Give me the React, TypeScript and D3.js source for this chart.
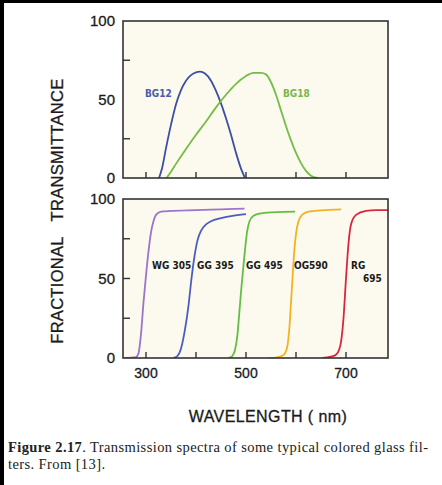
import React from "react";
import * as d3 from "d3";

// ---- data (wavelength nm, % transmittance) ----
const xTicks = [300, 400, 500, 600, 700];
const xTickLabels = [300, 500, 700];
const yTickLabels = [0, 50, 100];

const bg12: [number, number][] = [
  [326, 0], [332, 6], [340, 19], [350, 34], [360, 47], [370, 56], [380, 62],
  [390, 65.5], [400, 67.3], [408, 67.7], [418, 66.5], [430, 62], [440, 55.5],
  [450, 47.5], [460, 38], [470, 27.5], [480, 16], [490, 6], [498, 0],
];
const bg18: [number, number][] = [
  [341, 0], [350, 4], [360, 9], [380, 18.5], [400, 27.5], [420, 36], [440, 45],
  [460, 53], [480, 60], [500, 65], [515, 67], [530, 67], [540, 66], [550, 61],
  [560, 53], [570, 43], [580, 33], [590, 24], [600, 16], [610, 9.5], [620, 4.5],
  [630, 1.5], [643, 0],
];
const wg305: [number, number][] = [
  [258, 0], [280, 0.5], [285, 3], [290, 15], [295, 35], [300, 52], [305, 67],
  [310, 79], [315, 86], [320, 90], [330, 92], [350, 92.5], [400, 93],
  [450, 93.5], [497, 94],
];
const gg395: [number, number][] = [
  [355, 0], [362, 1], [370, 6], [378, 18], [385, 33], [391, 50], [397, 64],
  [403, 74], [410, 80], [420, 84], [430, 86], [450, 88], [470, 89.3], [500, 90.5],
];
const gg495: [number, number][] = [
  [465, 0], [472, 1], [478, 5], [483, 15], [487, 30], [491, 45], [494, 55],
  [498, 68], [502, 79], [507, 86], [515, 89.5], [530, 91], [560, 91.8], [598, 92],
];
const og590: [number, number][] = [
  [545, 0], [560, 0.3], [570, 1], [578, 3], [583, 8], [587, 20], [590, 35],
  [593, 50], [596, 65], [600, 78], [605, 86], [612, 90], [625, 92], [650, 92.8],
  [690, 93.5],
];
const rg695: [number, number][] = [
  [653, 0], [670, 0.8], [680, 2], [686, 5], [690, 10], [695, 25], [700, 50],
  [705, 72], [710, 84], [720, 90], [740, 92.5], [760, 93], [786, 93],
];

const topSeries = [
  { name: "BG12", data: bg12, color: "#3d4fa3" },
  { name: "BG18", data: bg18, color: "#74bd46" },
];
const bottomSeries = [
  { name: "WG305", data: wg305, color: "#9d74cc" },
  { name: "GG395", data: gg395, color: "#4b5ec0" },
  { name: "GG495", data: gg495, color: "#62bf44" },
  { name: "OG590", data: og590, color: "#f2b31e" },
  { name: "RG695", data: rg695, color: "#d9263d" },
];

const W = 442;
const H = 485;
const L = 123;
const R = 388;
const panels = [
  { id: "top", top: 21, bottom: 178, series: topSeries, yTicks: [25, 75] },
  { id: "bot", top: 199, bottom: 358, series: bottomSeries, yTicks: [25, 50, 75] },
];

const x = d3.scaleLinear().domain([254, 784]).range([L, R]);

const tickFont = "'Liberation Sans', Arial, sans-serif";
const labelFont = "'DejaVu Sans Condensed', 'DejaVu Sans', sans-serif";
const serif = "'Liberation Serif', 'Times New Roman', serif";

export default function App() {
  return (
    <div style={{ position: "fixed", left: 0, top: 0 }}>
      <svg width={W} height={H} style={{ display: "block", background: "#fff" }}>
        <rect x={0} y={0} width={W} height={3} fill="#000" />
        <rect x={0} y={0} width={4} height={H} fill="#000" />
        <defs>
          {panels.map((p) => (
            <clipPath id={"clip-" + p.id} key={p.id}>
              <rect x={L} y={p.top} width={R - L} height={p.bottom - p.top} />
            </clipPath>
          ))}
        </defs>
        {panels.map((p) => {
          const y = d3.scaleLinear().domain([0, 100]).range([p.bottom, p.top]);
          const line = d3
            .line<[number, number]>()
            .x((d) => x(d[0]))
            .y((d) => y(d[1]))
            .curve(d3.curveMonotoneX);
          return (
            <g key={p.id}>
              <rect x={L} y={p.top} width={R - L} height={p.bottom - p.top} fill="#fcf9ee" />
              <g clipPath={`url(#clip-${p.id})`}>
                {p.series.map((s) => (
                  <path key={s.name} d={line(s.data) || ""} fill="none" stroke={s.color} strokeWidth={1.8} />
                ))}
              </g>
              <rect x={L} y={p.top} width={R - L} height={p.bottom - p.top} fill="none" stroke="#333" strokeWidth={1.6} />
              {p.yTicks.map((t) => (
                <line key={t} x1={L} x2={L + 7} y1={y(t)} y2={y(t)} stroke="#333" strokeWidth={1.4} />
              ))}
              {xTicks.map((t) => (
                <line key={t} x1={x(t)} x2={x(t)} y1={p.bottom} y2={p.bottom - 6} stroke="#333" strokeWidth={1.4} />
              ))}
              {yTickLabels.map((t) => (
                <text key={t} x={115} y={y(t)} dy="0.36em" textAnchor="end" fontFamily={tickFont} fontSize={15} fill="#1a1a1a" stroke="#1a1a1a" strokeWidth={0.3}>
                  {t}
                </text>
              ))}
            </g>
          );
        })}
        {/* x tick labels */}
        {xTickLabels.map((t) => (
          <text key={t} x={x(t)} y={378} textAnchor="middle" fontFamily={tickFont} fontSize={14} fill="#1a1a1a" stroke="#1a1a1a" strokeWidth={0.3}>
            {t}
          </text>
        ))}
        <text x={268} y={422} textAnchor="middle" fontFamily={tickFont} fontSize={16} letterSpacing={0.4} fill="#1a1a1a" stroke="#1a1a1a" strokeWidth={0.3}>
          WAVELENGTH ( nm)
        </text>
        <g transform="translate(63,0)" fontFamily={tickFont} fontSize={16.5} letterSpacing={0.3} fill="#1a1a1a" stroke="#1a1a1a" strokeWidth={0.3}>
          <text transform="translate(0,290) rotate(-90)" textAnchor="middle">
            FRACTIONAL
          </text>
          <text transform="translate(0,150) rotate(-90)" textAnchor="middle">
            TRANSMITTANCE
          </text>
        </g>
        {/* curve labels */}
        <text x={145} y={97} fontFamily={labelFont} fontWeight="bold" fontSize={10} fill="#4a5aa8">BG12</text>
        <text x={283} y={97} fontFamily={labelFont} fontWeight="bold" fontSize={10} fill="#7ab848">BG18</text>
        <g fontFamily={labelFont} fontWeight="bold" fontSize={10} fill="#1a1a1a">
          <text x={152} y={269}>WG 305</text>
          <text x={197} y={269}>GG 395</text>
          <text x={246} y={269}>GG 495</text>
          <text x={294} y={269}>OG590</text>
          <text x={351} y={269}>RG</text>
          <text x={363} y={282}>695</text>
        </g>
        {/* caption */}
        <text x={8} y={452} fontFamily={serif} fontSize={14.5} letterSpacing={0.4} fill="#222">
          <tspan fontWeight="bold">Figure 2.17</tspan>. Transmission spectra of some typical colored glass fil-
        </text>
        <text x={8} y={469} fontFamily={serif} fontSize={14.5} letterSpacing={0.4} fill="#222">
          ters. From [13].
        </text>
      </svg>
    </div>
  );
}
